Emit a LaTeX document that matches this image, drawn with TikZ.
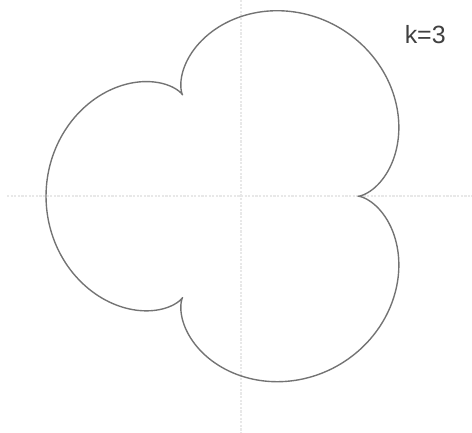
\documentclass[tikz,border=0pt]{standalone}
\usepackage{fontspec}
\setsansfont{Liberation Sans}
\usepackage{tikz}
\tikzset{
    axis line/.style={
        gray!18,line width=1.6pt,densely dotted
    },
    curve line/.style={
        black!55,line width=1pt,line join=round
    },
    k label/.style={
        font=\sffamily\fontsize{18}{21}\selectfont,text=black!75
    }
}

\begin{document}
\begin{tikzpicture}[x=0.99cm,y=0.99cm]
\useasboundingbox (-6.18,-6.05) rectangle (5.92,5.03);
\draw[axis line] (-6.0,0) -- (5.92,0);
\draw[axis line] (0,5.03) -- (0,-6.05);
\draw[curve line,domain=0:360,samples=400,smooth,variable=\t]
    plot ({4*cos(\t)-cos(4*\t)},{4*sin(\t)-sin(4*\t)}) -- cycle;
\node[k label] (klabel) at (4.72,4.15) {k=3};
\end{tikzpicture}
\end{document}
